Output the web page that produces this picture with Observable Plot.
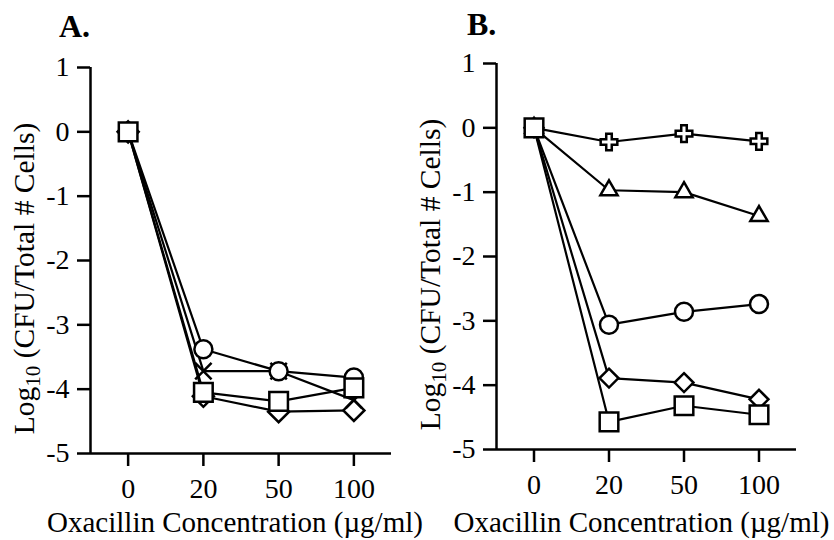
<!DOCTYPE html>
<html><head><meta charset="utf-8">
<script src="https://cdn.jsdelivr.net/npm/d3@7"></script>
<script src="https://cdn.jsdelivr.net/npm/@observablehq/plot@0.6"></script>
<style>
body{margin:0;background:#fff;}
#wrap{position:relative;width:834px;height:540px;overflow:hidden;font-family:"Liberation Serif","Times New Roman",serif;color:#000;background:#fff;}
.panel{position:absolute;top:0;width:417px;height:540px;}
.title{position:absolute;font-weight:bold;font-size:32px;line-height:1;}
.panel svg{position:absolute;left:0;top:44px;}
</style></head><body>
<div id="wrap">
 <div class="panel" id="pa" style="left:0"><div class="title" style="left:59px;top:10px">A.</div></div>
 <div class="panel" id="pb" style="left:417px"><div class="title" style="left:50px;top:8px">B.</div></div>
</div>
<script>
// Oxacillin concentrations (µg/ml), shown as evenly spaced categories
const concentrations = ["0", "20", "50", "100"];
const yTicks = [-5, -4, -3, -2, -1, 0, 1];
const xLabel = "Oxacillin Concentration (µg/ml)";
const yLabel = "Log10 (CFU/Total # Cells)";

// Panel A: log10(CFU / total # cells)
const aDiamond = [0, -4.11, -4.35, -4.33];
const aTimes   = [0, -3.72, -3.72, -4.17];
const aCircle  = [0, -3.38, -3.72, -3.82];
const aSquare  = [0, -4.05, -4.19, -3.98];

// Panel B
const bCross    = [0, -0.22, -0.09, -0.21];
const bTriangle = [0, -0.97, -1.00, -1.37];
const bCircle   = [0, -3.06, -2.86, -2.74];
const bDiamond  = [0, -3.89, -3.96, -4.22];
const bSquare   = [0, -4.57, -4.32, -4.46];

const xDomain = [-0.5, 3.5];
const yDomain = [-5, 1];

function rows(name, values, symbol, r) {
  return values.map((v, i) => ({series: name, i, v, symbol, r}));
}

const seriesA = [
  rows("diamond", aDiamond, "diamond2", 9.5),
  rows("times", aTimes, "times", 7.5),
  rows("circle", aCircle, "circle", 9),
  rows("square", aSquare, "square", 10.5)
];
const seriesB = [
  rows("cross", bCross, "cross", 7),
  rows("triangle", bTriangle, "triangle", 6.4),
  rows("circle", bCircle, "circle", 9),
  rows("diamond", bDiamond, "diamond2", 8.5),
  rows("square", bSquare, "square", 10.5)
];

function panel(series, m) {
  const all = series.flat();
  const marks = [
    Plot.ruleY([yDomain[0]], {stroke: "black", strokeWidth: 2.5}),
    Plot.ruleX([xDomain[0]], {y1: yDomain[0], y2: yDomain[1], stroke: "black", strokeWidth: 2.5}),
    Plot.axisY({ticks: yTicks, tickSize: 13, tickPadding: 8, tickFormat: d => String(d), strokeWidth: 2.5, fontSize: 28, label: null}),
    Plot.axisX({ticks: concentrations.map((c, i) => i), tickSize: 13, tickPadding: 12, tickFormat: i => concentrations[i], strokeWidth: 2.5, fontSize: 28, label: null}),
    Plot.line(all, {x: "i", y: "v", z: "series", stroke: "black", strokeWidth: 2.2}),
  ];
  for (const s of series) {
    marks.push(Plot.dot(s, {x: "i", y: "v", symbol: s[0].symbol, r: s[0].r, fill: s[0].symbol === "times" ? "none" : "white", stroke: "black", strokeWidth: 2.5}));
  }
  marks.push(Plot.text([xLabel], {text: d => d, frameAnchor: "bottom", textAnchor: "middle", lineAnchor: "middle", dy: m.xdy, dx: m.xdx, fontSize: 29}));
  marks.push(Plot.text([yLabel], {text: d => d, frameAnchor: "left", textAnchor: "middle", lineAnchor: "middle", rotate: -90, dx: -66, dy: m.ydy, fontSize: 29.5}));
  const svg = Plot.plot({
    width: 417, height: 496,
    marginLeft: m.left, marginRight: m.right, marginTop: m.top, marginBottom: m.bottom,
    x: {type: "linear", domain: xDomain, axis: null},
    y: {type: "linear", domain: yDomain, axis: null},
    symbol: {type: "identity"},
    style: {fontFamily: "'Liberation Serif','Times New Roman',serif", fontSize: "28px", color: "black", background: "transparent", overflow: "visible"},
    marks
  });
  d3.select(svg).selectAll("text").filter(function() { return this.textContent === yLabel; }).each(function() {
    const t = d3.select(this);
    t.text(null);
    t.append("tspan").text("Log");
    t.append("tspan").attr("font-size", 21).attr("dy", 6).text("10");
    t.append("tspan").attr("dy", -6).text(" (CFU/Total # Cells)");
  });
  return svg;
}

document.getElementById("pa").appendChild(panel(seriesA, {left: 90, right: 26, top: 23, bottom: 87, xdy: 69.5, xdx: -6, ydy: 18}));
document.getElementById("pb").appendChild(panel(seriesB, {left: 79, right: 38, top: 19, bottom: 91, xdy: 73.5, xdx: -5, ydy: 18}));
</script>
</body></html>
